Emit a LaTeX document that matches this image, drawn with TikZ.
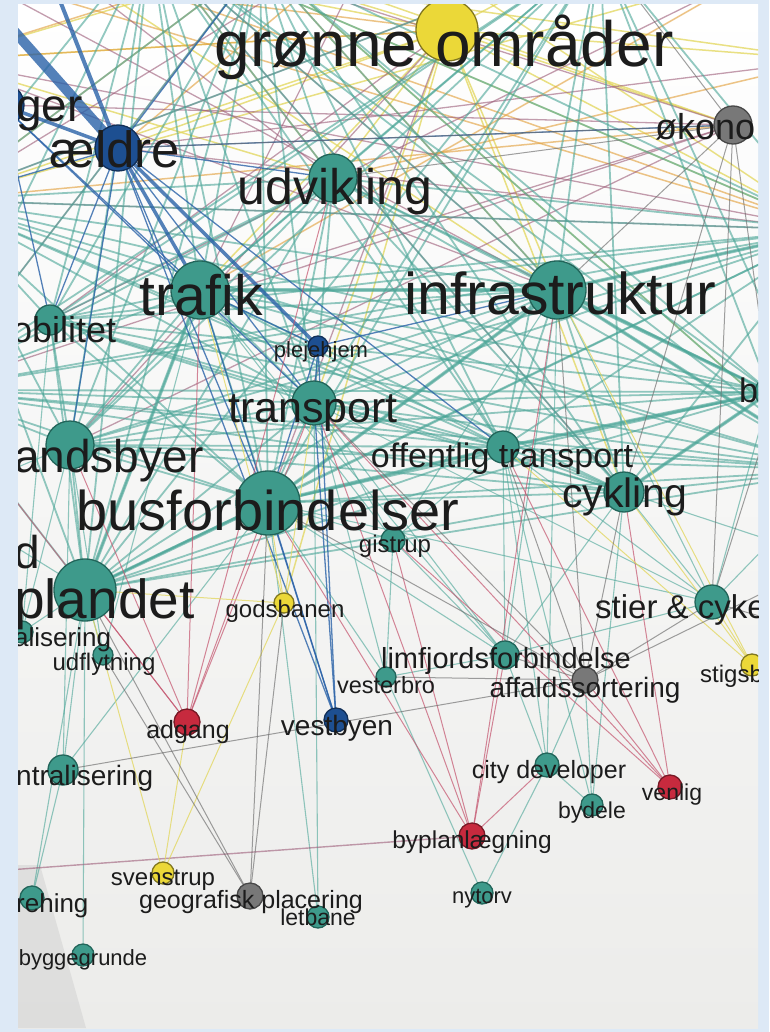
\documentclass[tikz,border=0pt]{standalone}
\usepackage{fontspec}
\setmainfont{Liberation Sans}
\usetikzlibrary{calc}

\definecolor{frame}{HTML}{DDE9F6}
\definecolor{paper}{HTML}{ECECEA}
\definecolor{ink}{HTML}{1C1C1C}
\definecolor{tealfill}{HTML}{3E9A8B}
\definecolor{tealline}{HTML}{22655A}
\definecolor{tealedge}{HTML}{4AA597}
\definecolor{bluefill}{HTML}{1D4F91}
\definecolor{blueedge}{HTML}{2A62A8}
\definecolor{redfill}{HTML}{C72A3E}
\definecolor{rededge}{HTML}{C4546E}
\definecolor{yellowfill}{HTML}{EBD838}
\definecolor{yellowedge}{HTML}{E2D65A}
\definecolor{grayfill}{HTML}{787878}
\definecolor{grayedge}{HTML}{6C6C6C}
\definecolor{mauveedge}{HTML}{9C5C78}
\definecolor{orangeedge}{HTML}{E3A445}

\tikzset{
  vtx/.style={circle, inner sep=0pt, minimum size=#1, line width=1.3pt},
  tv/.style={vtx=#1, fill=tealfill, draw=tealline},
  bv/.style={vtx=#1, fill=bluefill, draw=bluefill!60!black},
  rv/.style={vtx=#1, fill=redfill, draw=redfill!60!black},
  yv/.style={vtx=#1, fill=yellowfill, draw=yellowfill!55!black},
  gv/.style={vtx=#1, fill=grayfill, draw=grayfill!60!black},
  lbl/.style={inner sep=0pt, anchor=base, text=ink, font=\fontsize{#1}{#1}\selectfont},
  lblw/.style={lbl=#1, anchor=base west},
  te/.style={draw=tealedge, line width=#1, opacity=.6},
  be/.style={draw=blueedge, line width=#1, opacity=.8},
  re/.style={draw=rededge, line width=#1, opacity=.7},
  ye/.style={draw=yellowedge, line width=#1, opacity=.75},
  ge/.style={draw=grayedge, line width=#1, opacity=.65},
  me/.style={draw=mauveedge, line width=#1, opacity=.6},
  oe/.style={draw=orangeedge, line width=#1, opacity=.65},
}

\def\tealhubs{trafik,infra,transport,busforb,oplandet,landsbyer,cykling,offentlig,udvikling,mobilitet,bi,n1,n2,n3,w1,w2,e1,e2}

\begin{document}
\begin{tikzpicture}[x=1pt, y=-1pt]
  \useasboundingbox (0,0) rectangle (769,1032);
  \fill[frame] (0,0) rectangle (769,1032);

  \begin{scope}
  \clip (18,5) rectangle (758,1028);
  \shade[top color=white, bottom color=paper] (18,5) rectangle (758,1028);
  \fill[gray!40, opacity=.45] (18,865) -- (40,865) -- (86,1028) -- (18,1028) -- cycle;

  % node positions
  \coordinate (groenne) at (447,30);
  \coordinate (borger) at (2,105);
  \coordinate (aeldre) at (118,148);
  \coordinate (oekonomi) at (733,125);
  \coordinate (udvikling) at (333,178);
  \coordinate (trafik) at (200,290);
  \coordinate (infra) at (557,290);
  \coordinate (mobilitet) at (50,320);
  \coordinate (plejehjem) at (318,346);
  \coordinate (transport) at (314,403);
  \coordinate (bi) at (770,392);
  \coordinate (landsbyer) at (70,445);
  \coordinate (offentlig) at (503,447);
  \coordinate (cykling) at (624,492);
  \coordinate (busforb) at (268,503);
  \coordinate (gistrup) at (393,540);
  \coordinate (oplandet) at (85,590);
  \coordinate (godsbanen) at (284,603);
  \coordinate (stier) at (712,602);
  \coordinate (decentral) at (22,632);
  \coordinate (udflytning) at (103,655);
  \coordinate (limfjord) at (505,655);
  \coordinate (stigsb) at (752,665);
  \coordinate (vesterbro) at (386,677);
  \coordinate (affald) at (585,680);
  \coordinate (adgang) at (187,722);
  \coordinate (vestbyen) at (336,720);
  \coordinate (central) at (63,770);
  \coordinate (city) at (547,765);
  \coordinate (venlig) at (670,787);
  \coordinate (bydele) at (592,805);
  \coordinate (byplan) at (472,836);
  \coordinate (svenstrup) at (163,873);
  \coordinate (rehing) at (32,898);
  \coordinate (geografisk) at (250,896);
  \coordinate (letbane) at (318,917);
  \coordinate (nytorv) at (482,893);
  \coordinate (bygge) at (83,955);
  % off the screen
  \coordinate (nw) at (-40,-30);
  \coordinate (n0) at (40,-50);
  \coordinate (n1) at (150,-60);
  \coordinate (n2) at (260,-40);
  \coordinate (n5) at (380,-70);
  \coordinate (n3) at (600,-50);
  \coordinate (n4) at (760,-30);
  \coordinate (w0) at (-60,60);
  \coordinate (w1) at (-60,200);
  \coordinate (w2) at (-70,390);
  \coordinate (w3) at (-60,500);
  \coordinate (w4) at (-60,875);
  \coordinate (e0) at (830,60);
  \coordinate (e1) at (830,230);
  \coordinate (e2) at (840,470);
  \coordinate (e3) at (830,560);
  \coordinate (e4) at (840,640);

  % top: yellow, orange, mauve
  \foreach \a/\b in {groenne/n1, groenne/n3, groenne/udvikling, groenne/trafik, groenne/infra,
      groenne/aeldre, groenne/w1, groenne/e1, groenne/transport, groenne/cykling, groenne/oekonomi,
      groenne/godsbanen, groenne/w0, groenne/n0, groenne/e0, n1/e1, n2/oekonomi, nw/n3, w1/n4,
      n2/e2, n0/e0, w0/n5, n5/e1, w0/udvikling, n0/infra}
    \draw[ye=1.5] (\a) -- (\b);
  \foreach \a/\b in {n1/n3, nw/e1, w1/n2, n1/udvikling, n2/infra, nw/groenne, w1/oekonomi,
      n4/trafik, n0/n5, w0/n2, n5/aeldre, e0/udvikling, n0/e1, w0/groenne}
    \draw[oe=1.5] (\a) -- (\b);
  \foreach \a/\b in {groenne/landsbyer, groenne/mobilitet, groenne/busforb, n1/infra, n1/cykling,
      n1/oekonomi, oekonomi/trafik, oekonomi/landsbyer, oekonomi/w2, w1/e1, nw/infra, n2/w2,
      aeldre/e1, n3/w1, n4/mobilitet, borger/oekonomi, w0/e1, n0/n3, n5/w1, n0/udvikling,
      n5/trafik, e0/aeldre, w0/infra}
    \draw[me=1.3] (\a) -- (\b);

  % teal hubs
  \foreach \a [count=\i] in \tealhubs {
    \foreach \b [count=\j] in \tealhubs {
      \ifnum\j>\i \draw[te=1.8] (\a) -- (\b); \fi
    }
  }
  \foreach \a/\b in {infra/bi, infra/e1, infra/e2, cykling/bi, offentlig/bi, trafik/infra,
      busforb/offentlig, busforb/infra, oplandet/busforb, oplandet/trafik}
    \draw[te=3.5] (\a) -- (\b);
  \foreach \a/\b in {stier/cykling, stier/infra, stier/offentlig, stier/transport, stier/busforb,
      stier/bi, stier/limfjord, limfjord/busforb, limfjord/transport, limfjord/trafik,
      limfjord/offentlig, limfjord/infra, limfjord/gistrup, limfjord/cykling, limfjord/vesterbro,
      gistrup/busforb, gistrup/transport, gistrup/infra, gistrup/offentlig, gistrup/trafik,
      vesterbro/busforb, vesterbro/transport, vesterbro/gistrup, city/limfjord, city/offentlig,
      city/affald, city/bydele, city/nytorv, city/infra, bydele/cykling, bydele/affald,
      bydele/offentlig, udflytning/oplandet, udflytning/landsbyer, udflytning/trafik,
      decentral/oplandet, decentral/landsbyer, decentral/mobilitet, central/oplandet,
      central/landsbyer, central/rehing, central/busforb, bygge/oplandet, rehing/oplandet,
      letbane/busforb, letbane/transport, nytorv/vesterbro, oplandet/w3, landsbyer/w3,
      cykling/e3, stier/e2}
    \draw[te=1.1] (\a) -- (\b);

  % blue
  \draw[be=10] (nw) -- (aeldre);
  \draw[be=4] (n0) -- (aeldre);
  \foreach \a/\b in {aeldre/plejehjem, aeldre/trafik, borger/aeldre}
    \draw[be=3.5] (\a) -- (\b);
  \foreach \a/\b in {aeldre/transport, aeldre/busforb, aeldre/vestbyen, aeldre/oekonomi,
      aeldre/udvikling, aeldre/landsbyer, aeldre/mobilitet, aeldre/n2, aeldre/w1,
      aeldre/offentlig, plejehjem/vestbyen, plejehjem/trafik, plejehjem/transport,
      plejehjem/busforb, plejehjem/infra, vestbyen/busforb, vestbyen/trafik, vestbyen/transport,
      borger/trafik, borger/mobilitet, borger/transport}
    \draw[be=1.3] (\a) -- (\b);

  % red
  \foreach \a/\b in {adgang/oplandet, adgang/busforb, adgang/trafik, adgang/transport,
      adgang/udvikling, adgang/w2, adgang/landsbyer, byplan/busforb, byplan/transport,
      byplan/limfjord, byplan/gistrup, byplan/infra, byplan/city, venlig/affald,
      venlig/offentlig, venlig/transport, venlig/cykling, venlig/gistrup}
    \draw[re=1] (\a) -- (\b);
  \draw[me=1.4] (byplan) -- (w4);

  % yellow
  \foreach \a/\b in {godsbanen/busforb, godsbanen/trafik, godsbanen/transport,
      godsbanen/oplandet, svenstrup/godsbanen, svenstrup/oplandet, svenstrup/adgang,
      stigsb/cykling, stigsb/stier, stigsb/infra, stigsb/offentlig}
    \draw[ye=1] (\a) -- (\b);

  % gray
  \foreach \a/\b in {oekonomi/infra, oekonomi/udvikling, oekonomi/cykling, oekonomi/bi,
      oekonomi/aeldre, oekonomi/stier, oekonomi/n3, affald/stier, affald/limfjord,
      affald/cykling, affald/offentlig, affald/infra, affald/e3, affald/transport,
      affald/busforb, affald/vesterbro, affald/central, stier/e1, stier/e4,
      geografisk/udflytning, geografisk/godsbanen, geografisk/oplandet, geografisk/busforb}
    \draw[ge=1] (\a) -- (\b);

  % vertices
  \node[yv=62pt] (groenne n) at (groenne) {};
  \node[bv=44pt] (borger n) at (borger) {};
  \node[bv=46pt] (aeldre n) at (aeldre) {};
  \node[gv=38pt] (oekonomi n) at (oekonomi) {};
  \node[tv=48pt] (udvikling n) at (udvikling) {};
  \node[tv=58pt] (trafik n) at (trafik) {};
  \node[tv=58pt] (infra n) at (infra) {};
  \node[tv=30pt] (mobilitet n) at (mobilitet) {};
  \node[bv=20pt] (plejehjem n) at (plejehjem) {};
  \node[tv=44pt] (transport n) at (transport) {};
  \node[tv=30pt] (bi n) at (bi) {};
  \node[tv=48pt] (landsbyer n) at (landsbyer) {};
  \node[tv=32pt] (offentlig n) at (offentlig) {};
  \node[tv=40pt] (cykling n) at (cykling) {};
  \node[tv=64pt] (busforb n) at (busforb) {};
  \node[tv=24pt] (gistrup n) at (gistrup) {};
  \node[tv=62pt] (oplandet n) at (oplandet) {};
  \node[yv=20pt] (godsbanen n) at (godsbanen) {};
  \node[tv=34pt] (stier n) at (stier) {};
  \node[tv=22pt] (decentral n) at (decentral) {};
  \node[tv=20pt] (udflytning n) at (udflytning) {};
  \node[tv=28pt] (limfjord n) at (limfjord) {};
  \node[yv=22pt] (stigsb n) at (stigsb) {};
  \node[tv=20pt] (vesterbro n) at (vesterbro) {};
  \node[gv=26pt] (affald n) at (affald) {};
  \node[rv=26pt] (adgang n) at (adgang) {};
  \node[bv=24pt] (vestbyen n) at (vestbyen) {};
  \node[tv=30pt] (central n) at (central) {};
  \node[tv=24pt] (city n) at (city) {};
  \node[rv=24pt] (venlig n) at (venlig) {};
  \node[tv=22pt] (bydele n) at (bydele) {};
  \node[rv=26pt] (byplan n) at (byplan) {};
  \node[yv=22pt] (svenstrup n) at (svenstrup) {};
  \node[tv=24pt] (rehing n) at (rehing) {};
  \node[gv=26pt] (geografisk n) at (geografisk) {};
  \node[tv=22pt] (letbane n) at (letbane) {};
  \node[tv=22pt] (nytorv n) at (nytorv) {};
  \node[tv=22pt] (bygge n) at (bygge) {};

  % labels
  \node[lbl=64] (groenne t) at (444,67) {grønne områder};
  \node[lblw=46] (borger t) at (16,122) {ger};
  \node[lbl=51] (aeldre t) at (115,168) {ældre};
  \node[lblw=36] (oekonomi t) at (655,140) {økono};
  \node[lbl=50] (udvikling t) at (335,205) {udvikling};
  \node[lbl=57] (trafik t) at (201,315) {trafik};
  \node[lbl=59] (infra t) at (560,314) {infrastruktur};
  \node[lblw=36] (mobilitet t) at (12,342) {obilitet};
  \node[lbl=22] (plejehjem t) at (321,357) {plejehjem};
  \node[lbl=43] (transport t) at (313,422) {transport};
  \node[lblw=34] (bi t) at (739,402) {bi};
  \node[lblw=46] (landsbyer t) at (14,472) {andsbyer};
  \node[lbl=34] (offentlig t) at (502,467) {offentlig transport};
  \node[lbl=41] (cykling t) at (625,507) {cykling};
  \node[lbl=56] (busforb t) at (268,530) {busforbindelser};
  \node[lbl=24] (gistrup t) at (395,552) {gistrup};
  \node[lblw=46] (d t) at (14,568) {d};
  \node[lblw=55] (oplandet t) at (14,618) {plandet};
  \node[lbl=24] (godsbanen t) at (285,617) {godsbanen};
  \node[lblw=33] (stier t) at (595,618) {stier \& cyke};
  \node[lblw=26] (decentral t) at (14,646) {alisering};
  \node[lbl=24] (udflytning t) at (104,670) {udflytning};
  \node[lbl=29] (limfjord t) at (506,668) {limfjordsforbindelse};
  \node[lblw=24] (stigsb t) at (700,682) {stigsb};
  \node[lbl=23.5] (vesterbro t) at (386,693) {vesterbro};
  \node[lbl=28] (affald t) at (585,697) {affaldssortering};
  \node[lbl=25] (adgang t) at (188,738) {adgang};
  \node[lbl=28] (vestbyen t) at (337,735) {vestbyen};
  \node[lblw=28] (central t) at (16,785) {ntralisering};
  \node[lbl=25] (city t) at (549,778) {city developer};
  \node[lbl=23] (venlig t) at (672,800) {venlig};
  \node[lbl=23] (bydele t) at (592,818) {bydele};
  \node[lbl=24.5] (byplan t) at (472,848) {byplanlægning};
  \node[lbl=24] (svenstrup t) at (163,885) {svenstrup};
  \node[lblw=26] (rehing t) at (16,912) {rehing};
  \node[lbl=25] (geografisk t) at (251,908) {geografisk placering};
  \node[lbl=23] (letbane t) at (318,925) {letbane};
  \node[lbl=22] (nytorv t) at (482,903) {nytorv};
  \node[lbl=22] (bygge t) at (83,965) {byggegrunde};
  \end{scope}
\end{tikzpicture}
\end{document}
